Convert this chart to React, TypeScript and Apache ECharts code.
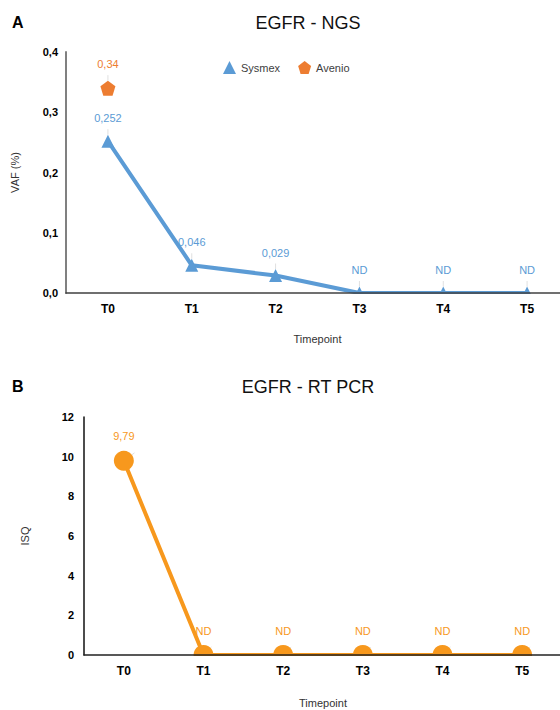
import React, { useEffect, useRef } from "react";
import * as echarts from "echarts";

const categories = ["T0", "T1", "T2", "T3", "T4", "T5"];
const sysmexValues = [0.252, 0.046, 0.029, 0, 0, 0];
const sysmexLabels = ["0,252", "0,046", "0,029", "ND", "ND", "ND"];
const avenioValues: (number | null)[] = [0.34, null, null, null, null, null];
const avenioLabels = ["0,34", "", "", "", "", ""];
const isqValues = [9.79, 0, 0, 0, 0, 0];
const isqLabels = ["9,79", "ND", "ND", "ND", "ND", "ND"];
const vafTicks = { min: 0, max: 0.4, interval: 0.1 };
const isqTicks = { min: 0, max: 12, interval: 2 };

const BLUE = "#5B9BD5";
const ORANGE = "#ED7D31";
const AMBER = "#F7981D";
const FONT = "Liberation Sans, Arial, sans-serif";

const gridA = { left: 66, top: 52, width: 503, height: 241 };
const gridB = { left: 84, top: 417, width: 478, height: 238 };

export default function App() {
  const ref = useRef<HTMLDivElement>(null);
  useEffect(() => {
    if (!ref.current) return;
    const chart = echarts.init(ref.current, null, { renderer: "svg" });
    const pentagon = "path://M50,0 L100,38 L81,100 L19,100 L0,38 Z";
    const lbl = (labels: string[], color: string, distance: number) => ({
      show: true,
      position: "top" as const,
      distance,
      color,
      fontSize: 11,
      fontFamily: FONT,
      formatter: (p: any) => labels[p.dataIndex],
    });
    const leader = { show: true, lineStyle: { color: "#e0e0e0", width: 1 } };
    chart.setOption({
      animation: false,
      textStyle: { fontFamily: FONT },
      title: [
        { text: "EGFR - NGS", left: 303, top: 9, textAlign: "center", textStyle: { fontSize: 18, fontWeight: "normal", color: "#111", fontFamily: FONT } },
        { text: "A", left: 7, top: 9, textStyle: { fontSize: 16, fontWeight: "bold", color: "#000", fontFamily: FONT } },
        { text: "EGFR - RT PCR", left: 303, top: 373, textAlign: "center", textStyle: { fontSize: 18, fontWeight: "normal", color: "#111", fontFamily: FONT } },
        { text: "B", left: 7, top: 373, textStyle: { fontSize: 16, fontWeight: "bold", color: "#000", fontFamily: FONT } },
      ],
      legend: {
        left: 218,
        top: 56,
        itemWidth: 13,
        itemHeight: 13,
        itemGap: 18,
        textStyle: { fontSize: 11, color: "#404040", fontFamily: FONT },
        data: [
          { name: "Sysmex", icon: "triangle" },
          { name: "Avenio", icon: pentagon },
        ],
      },
      grid: [
        { ...gridA, containLabel: false, outerBoundsMode: "none" },
        { ...gridB, containLabel: false, outerBoundsMode: "none" },
      ],
      xAxis: [
        {
          gridIndex: 0, type: "category", data: categories, boundaryGap: true, z: 10,
          axisTick: { show: false },
          axisLine: { lineStyle: { color: "#404040", width: 1.5 } },
          axisLabel: { color: "#000", fontWeight: "bold", fontSize: 12, margin: 10, fontFamily: FONT },
          name: "Timepoint", nameLocation: "middle", nameGap: 40,
          nameTextStyle: { color: "#333", fontSize: 11, fontFamily: FONT },
        },
        {
          gridIndex: 1, type: "category", data: categories, boundaryGap: true, z: 10,
          axisTick: { show: false },
          axisLine: { lineStyle: { color: "#222", width: 1.5 } },
          axisLabel: { color: "#000", fontWeight: "bold", fontSize: 12, margin: 10, fontFamily: FONT },
          name: "Timepoint", nameLocation: "middle", nameGap: 42,
          nameTextStyle: { color: "#333", fontSize: 11, fontFamily: FONT },
        },
      ],
      yAxis: [
        {
          gridIndex: 0, type: "value", ...vafTicks, z: 10,
          splitLine: { show: false },
          axisTick: { show: false },
          axisLine: { show: true, lineStyle: { color: "#808080", width: 2 } },
          axisLabel: { color: "#000", fontWeight: "bold", fontSize: 11, margin: 8, fontFamily: FONT, formatter: (v: number) => v.toFixed(1).replace(".", ",") },
          name: "VAF (%)", nameLocation: "middle", nameRotate: 90, nameGap: 46,
          nameTextStyle: { color: "#333", fontSize: 11, fontFamily: FONT },
        },
        {
          gridIndex: 1, type: "value", ...isqTicks, z: 10,
          splitLine: { show: false },
          axisTick: { show: false },
          axisLine: { show: true, lineStyle: { color: "#111", width: 1.5 } },
          axisLabel: { color: "#000", fontWeight: "bold", fontSize: 11, margin: 10, fontFamily: FONT },
          name: "ISQ", nameLocation: "middle", nameRotate: 90, nameGap: 54,
          nameTextStyle: { color: "#333", fontSize: 11, fontFamily: FONT },
        },
      ],
      graphic: [
        { type: "rect", z: 5, shape: { x: gridA.left, y: gridA.top + gridA.height + 1, width: gridA.width, height: 9 }, style: { fill: "#fff" } },
        { type: "rect", z: 5, shape: { x: gridB.left, y: gridB.top + gridB.height + 1, width: gridB.width, height: 11 }, style: { fill: "#fff" } },
      ],
      series: [
        {
          name: "Sysmex", type: "line", xAxisIndex: 0, yAxisIndex: 0,
          data: sysmexValues, symbol: "triangle", symbolSize: 13,
          itemStyle: { color: BLUE }, lineStyle: { color: BLUE, width: 4 },
          label: lbl(sysmexLabels, BLUE, 11), labelLine: leader,
        },
        {
          name: "Avenio", type: "line", xAxisIndex: 0, yAxisIndex: 0,
          data: avenioValues, symbol: pentagon, symbolSize: 15,
          itemStyle: { color: ORANGE }, lineStyle: { width: 0 },
          label: lbl(avenioLabels, ORANGE, 11), labelLine: leader,
        },
        {
          name: "ISQ", type: "line", xAxisIndex: 1, yAxisIndex: 1,
          data: isqValues, symbol: "circle", symbolSize: 20,
          itemStyle: { color: AMBER }, lineStyle: { color: AMBER, width: 4 },
          label: lbl(isqLabels, AMBER, 9), labelLine: leader,
        },
      ],
    });
    return () => chart.dispose();
  }, []);
  return <div ref={ref} style={{ position: "fixed", left: 0, top: 0, width: 560, height: 710, background: "#fff" }} />;
}
